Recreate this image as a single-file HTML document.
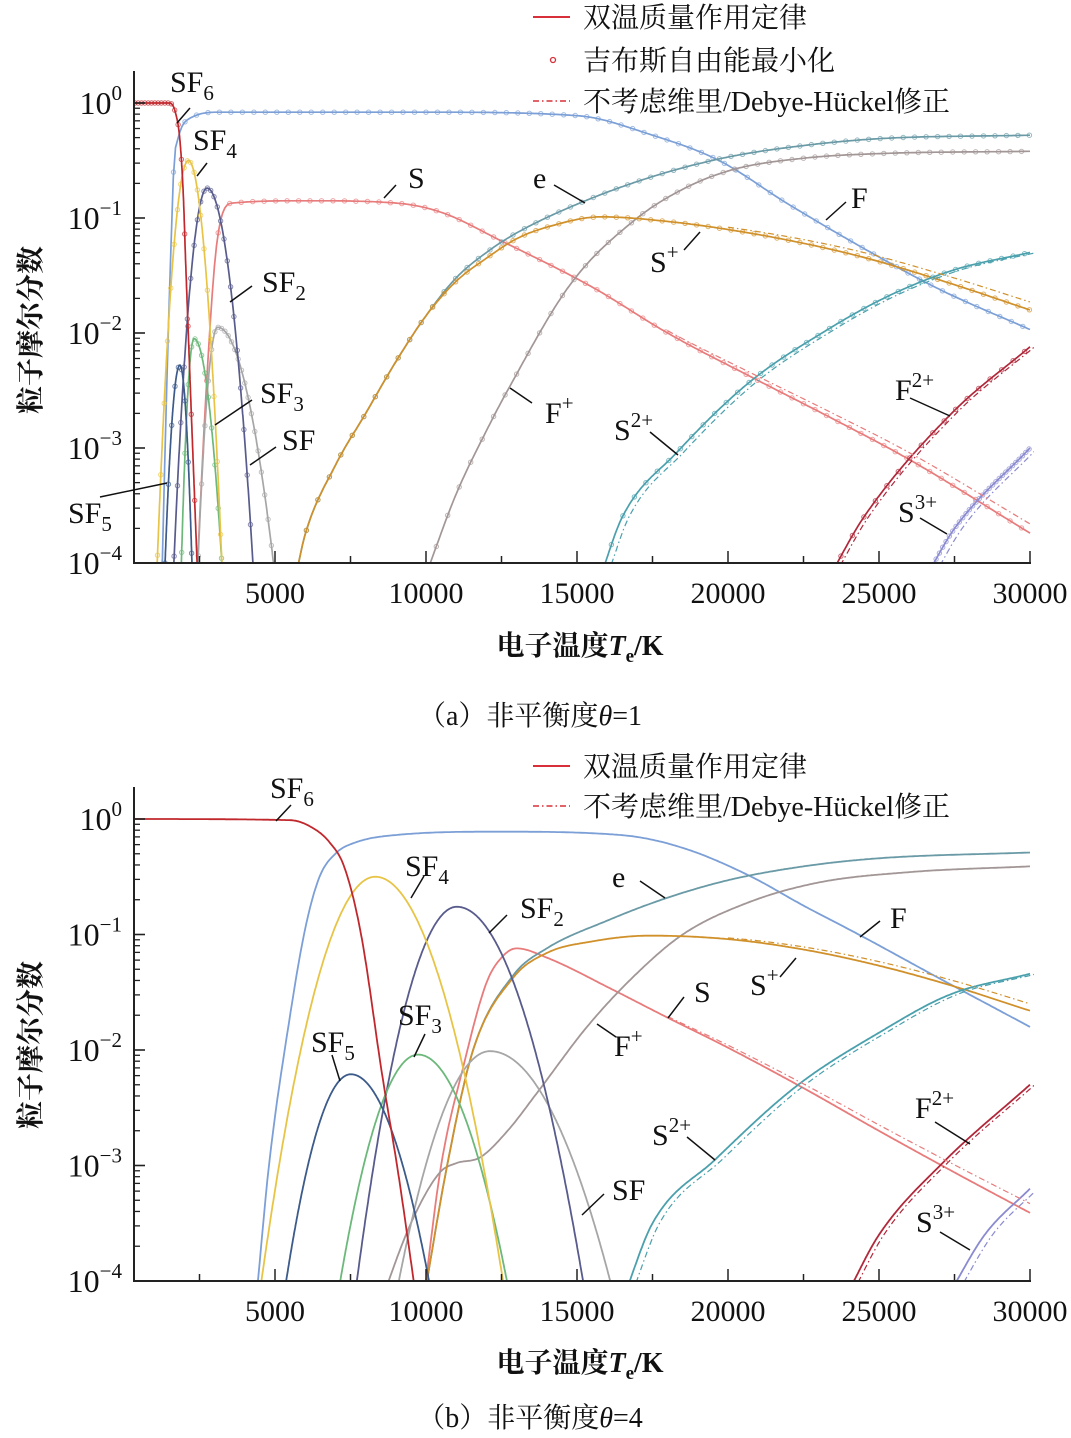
<!DOCTYPE html>
<html><head><meta charset="utf-8">
<style>
html,body{margin:0;padding:0;background:#fff;}
body{width:1071px;height:1438px;overflow:hidden;position:relative;}
svg{position:absolute;left:0;top:0;}
text{font-family:"Liberation Serif","Noto Serif CJK SC",serif;fill:#111;}
.cjk{font-family:"Liberation Serif","Noto Serif CJK SC",serif;}
</style></head>
<body>
<svg id="s" width="1071" height="1438" viewBox="0 0 1071 1438" xmlns="http://www.w3.org/2000/svg">
<defs>
<clipPath id="ca"><rect x="134" y="60" width="900" height="503"/></clipPath>
<clipPath id="cb"><rect x="134" y="770" width="900" height="511"/></clipPath>
</defs>
<g id="ga" clip-path="url(#ca)"></g>
<g id="gb" clip-path="url(#cb)"></g>
<g id="ax"></g>

<line x1="533" y1="17" x2="570" y2="17" stroke="#d8303a" stroke-width="2"/>
<text x="583" y="27" font-size="28" class="cjk">双温质量作用定律</text>
<circle cx="553" cy="60" r="2.5" fill="none" stroke="#d8303a" stroke-width="1.3"/>
<text x="583" y="70" font-size="28" class="cjk">吉布斯自由能最小化</text>
<line x1="533" y1="101" x2="570" y2="101" stroke="#d8303a" stroke-width="1.5" stroke-dasharray="6 3 1.5 3"/>
<text x="583" y="111" font-size="28" class="cjk">不考虑维里/Debye-Hückel修正</text>
<line x1="533" y1="766" x2="570" y2="766" stroke="#d8303a" stroke-width="2"/>
<text x="583" y="776" font-size="28" class="cjk">双温质量作用定律</text>
<line x1="533" y1="806" x2="570" y2="806" stroke="#d8303a" stroke-width="1.5" stroke-dasharray="6 3 1.5 3"/>
<text x="583" y="816" font-size="28" class="cjk">不考虑维里/Debye-Hückel修正</text>

<text transform="translate(40,330) rotate(-90)" font-size="28" text-anchor="middle" class="cjk" font-weight="bold">粒子摩尔分数</text>
<text transform="translate(40,1045) rotate(-90)" font-size="28" text-anchor="middle" class="cjk" font-weight="bold">粒子摩尔分数</text>
<text x="580" y="655" font-size="28" text-anchor="middle" class="cjk" font-weight="bold">电子温度<tspan font-style="italic">T</tspan><tspan font-size="19" dy="7">e</tspan><tspan dy="-7">/K</tspan></text>
<text x="580" y="1372" font-size="28" text-anchor="middle" class="cjk" font-weight="bold">电子温度<tspan font-style="italic">T</tspan><tspan font-size="19" dy="7">e</tspan><tspan dy="-7">/K</tspan></text>
<text x="530" y="725" font-size="28" text-anchor="middle" class="cjk">（a）非平衡度<tspan font-style="italic">θ</tspan>=1</text>
<text x="530" y="1427" font-size="28" text-anchor="middle" class="cjk">（b）非平衡度<tspan font-style="italic">θ</tspan>=4</text>
</svg>
<script>
(function(){
var NS="http://www.w3.org/2000/svg";
function el(p,n,a,t){var e=document.createElementNS(NS,n);for(var k in a)e.setAttribute(k,a[k]);if(t!=null)e.textContent=t;p.appendChild(e);return e;}
function X(T){return 124+0.0302*T;}
var YA=function(l){return 103-115*l;}, YB=function(l){return 819-115.5*l;};
function herm(pts){
  var n=pts.length,d=[],m=[];
  for(var i=0;i<n-1;i++)d.push((pts[i+1][1]-pts[i][1])/(pts[i+1][0]-pts[i][0]));
  for(var i=0;i<n;i++){
    if(i==0)m.push(d[0]);else if(i==n-1)m.push(d[n-2]);
    else if(d[i-1]*d[i]<=0)m.push(0);else m.push((d[i-1]+d[i])/2);
  }
  for(var i=0;i<n-1;i++){
    if(d[i]==0){m[i]=0;m[i+1]=0;continue;}
    var a=m[i]/d[i],b=m[i+1]/d[i],s=a*a+b*b;
    if(s>9){var t=3/Math.sqrt(s);m[i]=t*a*d[i];m[i+1]=t*b*d[i];}
  }
  return function(T){
    if(T<=pts[0][0])return pts[0][1];if(T>=pts[n-1][0])return pts[n-1][1];
    var i=0;while(pts[i+1][0]<T)i++;
    var h=pts[i+1][0]-pts[i][0],t=(T-pts[i][0])/h,t2=t*t,t3=t2*t;
    return (2*t3-3*t2+1)*pts[i][1]+(t3-2*t2+t)*h*m[i]+(-2*t3+3*t2)*pts[i+1][1]+(t3-t2)*h*m[i+1];
  };
}
function para(TL,Tp,TR,p){return function(T){var w=T<Tp?(Tp-TL):(TR-Tp);var u=(T-Tp)/w;return p-(p+4)*u*u;};}
function draw(g,Y,f,T0,T1,col,opt){
  opt=opt||{};var d="",st=(T1-T0)/400;
  for(var T=T0;T<=T1+1e-6;T+=st){var l=f(T)+(opt.dl||0);d+=(d?"L":"M")+X(T+(opt.dT||0)).toFixed(1)+" "+Y(Math.max(l,-4.3)).toFixed(1);}
  var a={d:d,fill:"none",stroke:col,"stroke-width":opt.w||1.8};
  if(opt.dash)a["stroke-dasharray"]=opt.dash;
  el(g,"path",a);
  if(opt.mk){for(var T=T0+(opt.mo||0);T<=T1;T+=opt.mk){var l=f(T);if(l<-4.05)continue;el(g,"circle",{cx:X(T).toFixed(1),cy:Y(l).toFixed(1),r:2.2,fill:"none",stroke:col,"stroke-width":1,opacity:0.7});}}
}
var C={sf6:"#c0282d",F:"#7b9fd6",sf4:"#e8c446",sf5:"#3c5a8a",sf3:"#6cb87a",sf2:"#585b8c",sf:"#a6a6a6",S:"#e87b7b",e:"#6a9aa6",Sp:"#d0902a",Fp:"#a29696",S2:"#4aa0ac",F2:"#b0283a",S3:"#8a8ad0"};
var DD="6 3 1.5 3";
var ga=document.getElementById("ga");
var A={
 sf6:herm([[300,0],[1500,0],[1700,-0.08],[1850,-0.32],[1960,-0.78],[2040,-1.37],[2200,-2.5],[2450,-4.2]]),
 F:herm([[1250,-4.2],[1400,-2.6],[1550,-1.3],[1650,-0.55],[1800,-0.3],[2080,-0.15],[3200,-0.08],[10000,-0.08],[15000,-0.11],[17500,-0.28],[19700,-0.5],[22000,-0.88],[24600,-1.28],[27000,-1.62],[30000,-1.97]]),
 sf4:para(1100,2130,3240,-0.5),
 sf5:para(1360,1850,2250,-2.28),
 sf3:para(1900,2320,3240,-2.05),
 sf2:para(1650,2750,4270,-0.74),
 sf:para(2450,3100,4950,-1.95),
 S:herm([[2400,-4.2],[2700,-2.6],[3000,-1.4],[3200,-1.02],[3600,-0.87],[6000,-0.85],[9000,-0.87],[10500,-0.95],[12500,-1.2],[15500,-1.6],[18000,-2.0],[20900,-2.4],[23500,-2.75],[26000,-3.1],[30000,-3.74]]),
 e:herm([[5700,-4.1],[6000,-3.75],[7000,-3.15],[8000,-2.7],[9000,-2.25],[10000,-1.85],[11000,-1.52],[12000,-1.3],[13000,-1.13],[15000,-0.88],[17500,-0.64],[20000,-0.47],[22500,-0.37],[25000,-0.31],[30000,-0.28]]),
 Sp:herm([[5700,-4.1],[6000,-3.75],[7000,-3.15],[8000,-2.7],[9000,-2.25],[10000,-1.85],[11000,-1.55],[12000,-1.35],[13000,-1.18],[14000,-1.08],[15800,-0.99],[18000,-1.03],[20000,-1.1],[22500,-1.22],[24600,-1.35],[27500,-1.58],[30000,-1.8]]),
 Fp:herm([[10000,-4.1],[11000,-3.4],[12000,-2.85],[12700,-2.5],[14800,-1.57],[16900,-1.02],[18500,-0.75],[20150,-0.58],[22500,-0.48],[25000,-0.44],[30000,-0.42]]),
 S2:herm([[15800,-4.1],[16500,-3.6],[18300,-3.04],[20700,-2.43],[23300,-1.97],[25300,-1.68],[27500,-1.45],[30000,-1.3]]),
 F2:herm([[23400,-4.1],[24500,-3.6],[27400,-2.7],[30000,-2.12]]),
 S3:herm([[26600,-4.1],[27500,-3.7],[30000,-3.0]])
};
var ordA=[["S",2300,30000],["F",1200,30000],["e",5600,30000],["Fp",9900,30000],["Sp",5600,30000],["S2",15700,30000],["F2",23300,30000],["S3",26500,30000],["sf",2400,5000],["sf2",1600,4300],["sf3",1850,3300],["sf5",1300,2300],["sf4",1050,3300],["sf6",300,2500]];
ordA.forEach(function(o){var k=o[0];draw(ga,YA,A[k],o[1],o[2],C[k],{mk:(o[2]-o[1]<6000?110:380),mo:60,w:1.7});});
draw(ga,YA,A.S2,15700,30000,C.S2,{dT:220,dash:DD,w:1.2});
draw(ga,YA,A.F2,23300,30000,C.F2,{dT:150,dash:DD,w:1.2});
draw(ga,YA,A.S3,26500,30000,C.S3,{dT:250,dash:DD,w:1.2});
draw(ga,YA,function(T){return A.S(T)+(T>18000?(T-18000)/12000*0.06:0);},18000,30000,C.S,{dash:DD,w:1.2,dl:0.02});
draw(ga,YA,function(T){return A.Sp(T)+(T>20000?(T-20000)/10000*0.05:0);},20000,30000,C.Sp,{dash:DD,w:1.2,dl:0.02});
var gb=document.getElementById("gb");
var B={
 sf6:herm([[300,0],[5500,-0.01],[6200,-0.07],[6800,-0.2],[7300,-0.42],[7850,-1.0],[8540,-2.2],[9100,-3.1],[9700,-4.2]]),
 F:herm([[4400,-4.1],[4800,-3.0],[5500,-1.7],[6000,-0.95],[6460,-0.51],[7000,-0.3],[7700,-0.2],[8950,-0.14],[12400,-0.11],[16500,-0.14],[18500,-0.25],[20700,-0.49],[22500,-0.75],[24400,-1.01],[27000,-1.38],[30000,-1.8]]),
 sf4:para(4550,8320,12550,-0.5),
 sf5:para(5370,7510,10100,-2.21),
 sf3:para(7160,9740,12680,-2.04),
 sf2:para(7710,11020,15200,-0.76),
 sf:para(9100,12120,16100,-2.01),
 S:herm([[9900,-4.2],[10500,-3.0],[11230,-2.15],[12000,-1.42],[12500,-1.2],[13000,-1.12],[14000,-1.2],[16200,-1.48],[18000,-1.72],[20000,-1.98],[22500,-2.33],[25000,-2.7],[27500,-3.06],[30000,-3.41]]),
 e:herm([[9900,-4.2],[10700,-3.0],[11560,-2.0],[12900,-1.35],[14000,-1.12],[16000,-0.88],[17900,-0.69],[20000,-0.53],[22500,-0.41],[25000,-0.34],[30000,-0.29]]),
 Sp:herm([[9900,-4.2],[10700,-3.0],[11560,-2.0],[12900,-1.37],[14000,-1.16],[15500,-1.06],[17400,-1.01],[20000,-1.04],[22500,-1.13],[25000,-1.27],[27500,-1.45],[30000,-1.66]]),
 Fp:herm([[8480,-4.2],[9500,-3.5],[10460,-3.06],[11000,-2.98],[11790,-2.93],[12700,-2.7],[13680,-2.37],[15330,-1.8],[16850,-1.37],[18500,-1.0],[20700,-0.72],[23000,-0.55],[26000,-0.46],[30000,-0.41]]),
 S2:herm([[16600,-4.1],[17500,-3.5],[19570,-2.95],[22280,-2.31],[25000,-1.85],[27350,-1.52],[30000,-1.34]]),
 F2:herm([[23970,-4.1],[25000,-3.6],[27100,-2.98],[30000,-2.3]]),
 S3:herm([[27350,-4.1],[28500,-3.6],[30000,-3.2]])
};
var ordB=[["S",9800,30000],["F",4300,30000],["Fp",8400,30000],["e",9800,30000],["Sp",9800,30000],["S2",16500,30000],["F2",23900,30000],["S3",27300,30000],["sf",9000,16200],["sf2",7600,15300],["sf3",7100,12800],["sf5",5300,10200],["sf4",4500,12600],["sf6",300,9800]];
ordB.forEach(function(o){var k=o[0];draw(gb,YB,B[k],o[1],o[2],C[k],{w:1.8});});
draw(gb,YB,B.S2,16500,30000,C.S2,{dT:230,dash:DD,w:1.2});
draw(gb,YB,B.F2,23900,30000,C.F2,{dT:160,dash:DD,w:1.2});
draw(gb,YB,B.S3,27300,30000,C.S3,{dT:260,dash:DD,w:1.2});
draw(gb,YB,function(T){return B.S(T)+(T-18000)/12000*0.07;},18000,30000,C.S,{dash:DD,w:1.2,dl:0.01});
draw(gb,YB,function(T){return B.Sp(T)+(T-20000)/10000*0.05;},20000,30000,C.Sp,{dash:DD,w:1.2,dl:0.01});
var ax=document.getElementById("ax");
function axes(Y,top,bot){
  var x0=134;
  el(ax,"line",{x1:x0,y1:top,x2:x0,y2:bot+1,stroke:"#222","stroke-width":2});
  el(ax,"line",{x1:x0-1,y1:bot,x2:X(30000)+1,y2:bot,stroke:"#222","stroke-width":2});
  for(var dcd=0;dcd>=-4;dcd--){
    el(ax,"line",{x1:x0,y1:Y(dcd),x2:x0+11,y2:Y(dcd),stroke:"#222","stroke-width":1.6});
    var t=el(ax,"text",{x:122,y:Y(dcd)+11,"font-size":32,"text-anchor":"end"});
    t.textContent="10";el(t,"tspan",{"font-size":21,dy:-14},dcd==0?"0":"\u2212"+(-dcd));
    if(dcd>-4){for(var k=2;k<=9;k++){var l=dcd-1+Math.log10(k);el(ax,"line",{x1:x0,y1:Y(l),x2:x0+6,y2:Y(l),stroke:"#222","stroke-width":1.3});}}
  }
  for(var k=2;k<=3;k++){var l=Math.log10(k);if(Y(l)>top)el(ax,"line",{x1:x0,y1:Y(l),x2:x0+6,y2:Y(l),stroke:"#222","stroke-width":1.3});}
  for(var T=2500;T<=30000;T+=2500){var maj=T%5000==0;
    el(ax,"line",{x1:X(T),y1:bot,x2:X(T),y2:bot-(maj?12:7),stroke:"#222","stroke-width":1.5});
    if(maj)el(ax,"text",{x:X(T),y:bot+40,"font-size":30,"text-anchor":"middle"},String(T));}
}
axes(YA,71,563);
axes(YB,787,1281);
function lab(x,y,main,sub,sup,l1){
  var t=el(ax,"text",{x:x,y:y,"font-size":30});t.textContent=main;
  if(sub)el(t,"tspan",{"font-size":21,dy:8},sub);
  if(sup)el(t,"tspan",{"font-size":21,dy:-13},sup);
  if(l1)el(ax,"line",{x1:l1[0],y1:l1[1],x2:l1[2],y2:l1[3],stroke:"#111","stroke-width":1.5});
}
lab(170,92,"SF","6",null,[190,108,177,123]);
lab(193,150,"SF","4",null,[207,163,197,176]);
lab(408,188,"S",null,null,[396,185,384,198]);
lab(533,188,"e",null,null,[554,185,585,203]);
lab(851,208,"F",null,null,[846,202,826,220]);
lab(650,272,"S",null,"+",[684,250,700,232]);
lab(262,292,"SF","2",null,[252,286,230,302]);
lab(260,403,"SF","3",null,[252,400,215,425]);
lab(282,450,"SF",null,null,[276,447,250,465]);
lab(68,523,"SF","5",null,[100,497,167,483]);
lab(545,423,"F",null,"+",[532,403,510,388]);
lab(614,440,"S",null,"2+",[650,432,678,455]);
lab(895,400,"F",null,"2+",[910,398,950,416]);
lab(898,522,"S",null,"3+",[920,518,947,534]);
lab(270,798,"SF","6",null,[291,805,276,821]);
lab(405,876,"SF","4",null,[424,876,411,898]);
lab(520,918,"SF","2",null,[507,915,489,933]);
lab(612,887,"e",null,null,[640,881,665,898]);
lab(311,1052,"SF","5",null,[332,1055,340,1081]);
lab(398,1025,"SF","3",null,[425,1034,414,1057]);
lab(614,1056,"F",null,"+",[616,1037,597,1024]);
lab(612,1200,"SF",null,null,[604,1194,582,1215]);
lab(890,928,"F",null,null,[880,921,860,937]);
lab(750,995,"S",null,"+",[780,977,796,958]);
lab(694,1002,"S",null,null,[684,997,668,1018]);
lab(652,1145,"S",null,"2+",[687,1137,715,1160]);
lab(915,1118,"F",null,"2+",[935,1122,970,1144]);
lab(916,1232,"S",null,"3+",[940,1232,970,1250]);
})();
</script>
</body></html>
